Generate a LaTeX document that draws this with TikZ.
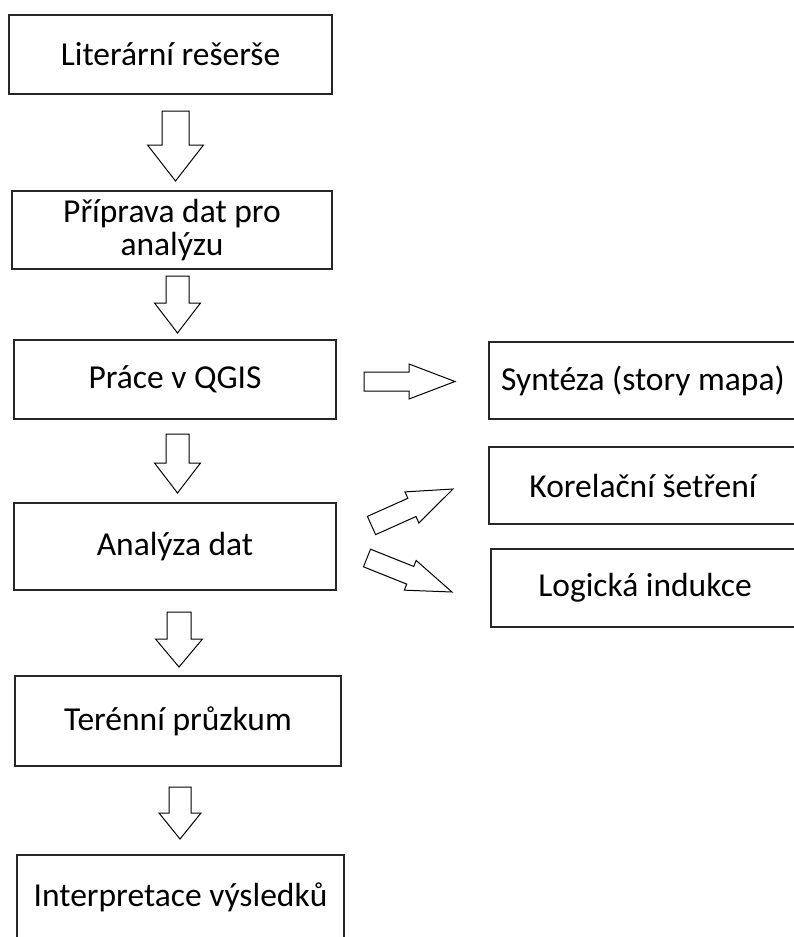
\documentclass[tikz,border=0pt]{standalone}
\usepackage{fontspec}
\setmainfont{Carlito}
\usetikzlibrary{calc}

\tikzset{
  box/.style={draw=black!85, line width=1.3pt, minimum width=#1, inner sep=0pt,
    font=\fontsize{33.5}{33}\selectfont, align=center},
  box/.default=322pt,
  barrow/.style={draw=black, line width=1pt, fill=white, line join=miter}
}
% block arrow: tail, tip, half shaft, half head, head length
\newcommand{\blockarrow}[5]{%
  \coordinate (hb) at ($(#2)!#5!(#1)$);
  \draw[barrow] ($(#1)!#3!90:(#2)$) -- ($(hb)!#3!90:(#2)$) -- ($(hb)!#4!90:(#2)$)
    -- (#2) -- ($(hb)!#4!-90:(#2)$) -- ($(hb)!#3!-90:(#2)$) -- ($(#1)!#3!-90:(#2)$) -- cycle;}

\begin{document}
\begin{tikzpicture}[x=1pt, y=-1pt]
    \useasboundingbox (0,0) rectangle (794,937);
    % left column
    \node[box=323pt, minimum height=79pt] (lit) at (170.5,54.5) {Literární rešerše};
    \node[box=320pt, minimum height=78pt] (prep) at (172,230) {Příprava dat pro\\analýzu};
    \node[box, minimum height=79pt] (qgis) at (175,379.5) {Práce v QGIS};
    \node[box, minimum height=87pt] (anal) at (175,546.5) {Analýza dat};
    \node[box=326pt, minimum height=90pt] (teren) at (178,721) {Terénní průzkum};
    \node[box=327pt, minimum height=84pt] (interp) at (180.5,897) {Interpretace výsledků};
    % right column
    \node[box=308pt, minimum height=77pt] (synt) at (643,380.5) {Syntéza (story mapa)};
    \node[box=308pt, minimum height=77pt] (korel) at (643,485.5) {Korelační šetření};
    \node[box=308pt, minimum height=78pt] (logic) at (645,588) {Logická indukce};
    % arrow ends
    \coordinate (a1s) at (175.5,111);  \coordinate (a1e) at (175.5,181);
    \coordinate (a2s) at (177.5,276);  \coordinate (a2e) at (177.5,333);
    \coordinate (a3s) at (177.5,434);  \coordinate (a3e) at (177.5,493);
    \coordinate (a4s) at (179,612);    \coordinate (a4e) at (179,667);
    \coordinate (a5s) at (180,787);    \coordinate (a5e) at (180,839);
    \coordinate (r1s) at (364,381.5);  \coordinate (r1e) at (455,381.5);
    \coordinate (d1s) at (371.5,525.5);\coordinate (d1e) at (453,489);
    \coordinate (d2s) at (367,558);    \coordinate (d2e) at (452,592);
    \blockarrow{a1s}{a1e}{13.5pt}{28pt}{36pt}
    \blockarrow{a2s}{a2e}{11.5pt}{23pt}{30pt}
    \blockarrow{a3s}{a3e}{11.5pt}{23pt}{30pt}
    \blockarrow{a4s}{a4e}{12pt}{23.5pt}{28pt}
    \blockarrow{a5s}{a5e}{11pt}{21pt}{26pt}
    \blockarrow{r1s}{r1e}{9.5pt}{17.5pt}{46pt}
    \blockarrow{d1s}{d1e}{10pt}{17pt}{45pt}
    \blockarrow{d2s}{d2e}{9.5pt}{16pt}{45pt}
\end{tikzpicture}
\end{document}
